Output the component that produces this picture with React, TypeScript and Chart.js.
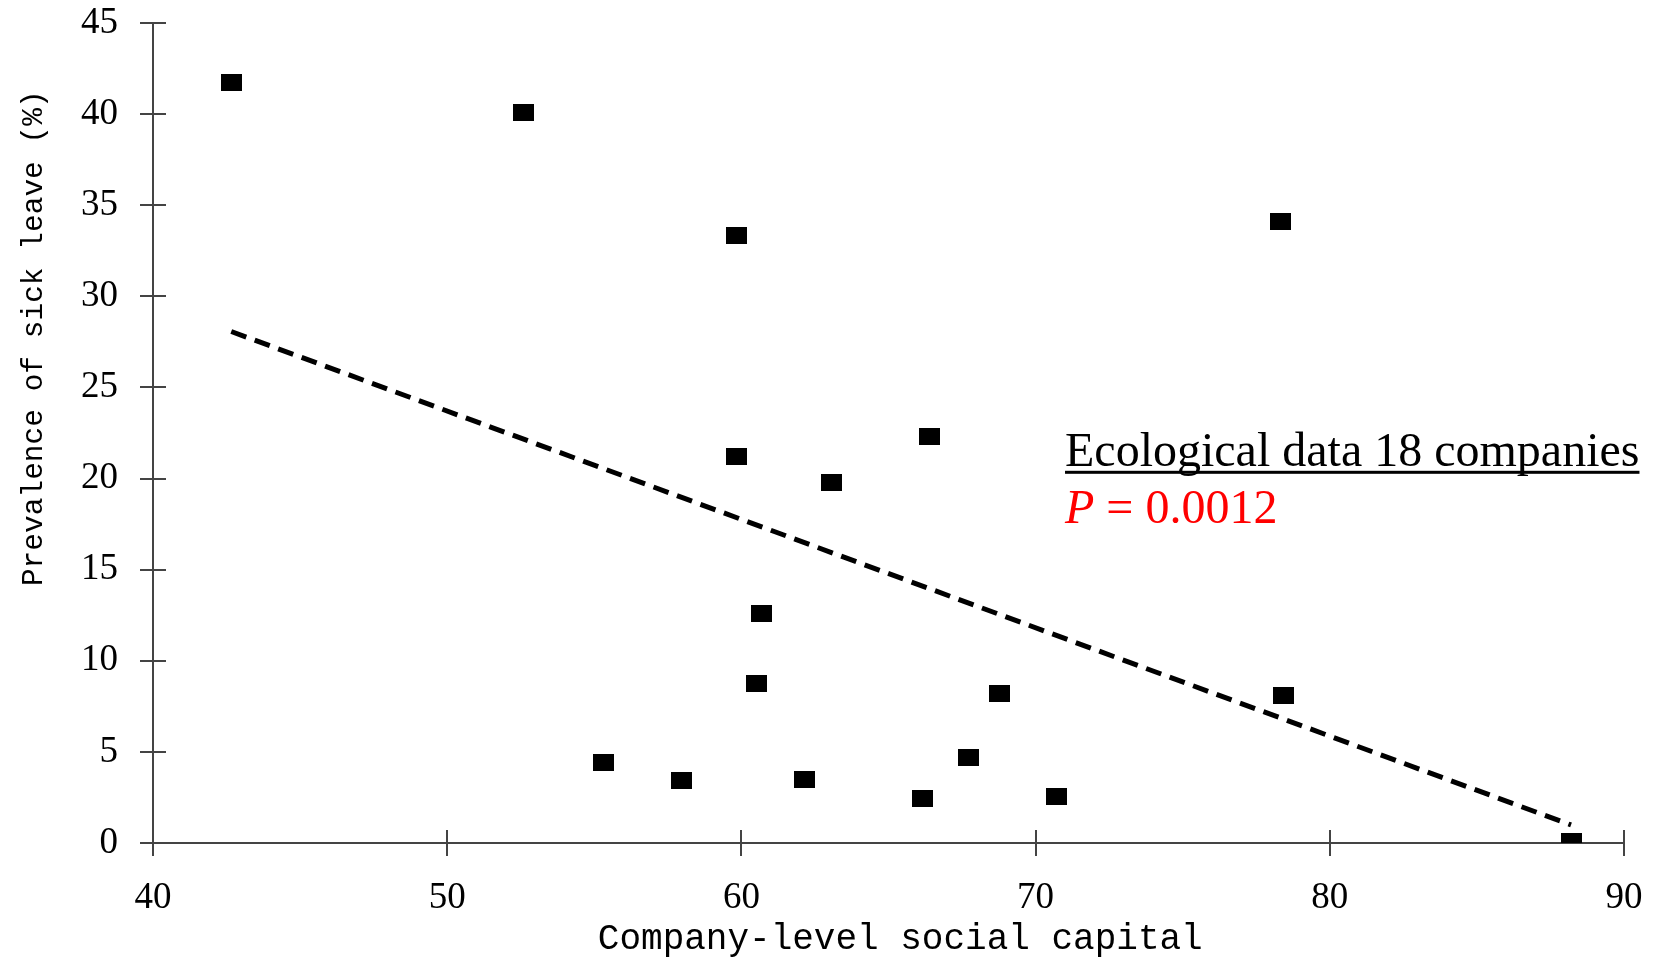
import React, { useEffect, useRef } from "react";
import { Chart, registerables } from "chart.js";

Chart.register(...registerables);

// Company-level social capital (x) vs prevalence of sick leave % (y)
const socialCapital = [42.66, 52.61, 59.83, 78.33, 66.4, 59.83, 63.06, 60.69, 60.51, 68.77, 78.43, 55.3, 57.96, 62.16, 67.73, 66.15, 70.71, 88.2];
const sickLeave = [41.76, 40.08, 33.35, 34.1, 22.33, 21.23, 19.78, 12.59, 8.76, 8.18, 8.12, 4.41, 3.42, 3.48, 4.7, 2.44, 2.55, 0.06];
const trendX = [42.66, 88.2];
const trendY = [28.07, 0.99];
const xTicks = [40, 50, 60, 70, 80, 90];
const yTicks = [0, 5, 10, 15, 20, 25, 30, 35, 40, 45];
const xTitle = "Company-level social capital";
const yTitle = "Prevalence of sick leave (%)";
const noteTitle = "Ecological data 18 companies";
const noteP = "0.0012";

const AXIS_COLOR = "#444";
const TICK_IN = 13;

const extras = {
  id: "extras",
  afterDraw(chart: any) {
    const { ctx, chartArea, scales } = chart;
    ctx.save();
    ctx.strokeStyle = AXIS_COLOR;
    ctx.lineWidth = 2;
    ctx.beginPath();
    for (const v of xTicks) {
      const px = Math.round(scales.x.getPixelForValue(v));
      ctx.moveTo(px, chartArea.bottom);
      ctx.lineTo(px, chartArea.bottom - TICK_IN);
    }
    for (const v of yTicks) {
      const py = Math.round(scales.y.getPixelForValue(v));
      ctx.moveTo(chartArea.left, py);
      ctx.lineTo(chartArea.left + TICK_IN, py);
    }
    ctx.stroke();

    // axis titles
    ctx.fillStyle = "#000";
    ctx.textAlign = "center";
    ctx.textBaseline = "middle";
    ctx.font = "36px 'Liberation Mono', monospace";
    ctx.fillText(xTitle, scales.x.getPixelForValue(65.4), 939);
    ctx.save();
    ctx.translate(34, scales.y.getPixelForValue(27.7));
    ctx.rotate(-Math.PI / 2);
    ctx.font = "29.5px 'Liberation Mono', monospace";
    ctx.fillText(yTitle, 0, 0);
    ctx.restore();

    // annotation
    const tx = scales.x.getPixelForValue(71.0);
    const ty1 = scales.y.getPixelForValue(20.7);
    ctx.font = "48px 'Liberation Serif', 'Times New Roman', serif";
    ctx.fillStyle = "#000";
    ctx.textBaseline = "alphabetic";
    ctx.textAlign = "left";
    ctx.fillText(noteTitle, tx, ty1);
    const w = ctx.measureText(noteTitle).width;
    ctx.fillRect(tx, ty1 + 5, w, 3);
    const ty2 = ty1 + 57;
    ctx.fillStyle = "#ff0000";
    ctx.font = "italic 48px 'Liberation Serif', 'Times New Roman', serif";
    ctx.fillText("P", tx, ty2);
    const off = ctx.measureText("P").width;
    ctx.font = "48px 'Liberation Serif', 'Times New Roman', serif";
    ctx.fillText(" = " + noteP, tx + off, ty2);
    ctx.restore();
  },
};

export default function App() {
  const ref = useRef<HTMLCanvasElement>(null);
  useEffect(() => {
    document.body.style.margin = "0";
    const marker = document.createElement("canvas");
    marker.width = 21;
    marker.height = 17;
    const mctx = marker.getContext("2d")!;
    mctx.fillStyle = "#000";
    mctx.fillRect(0, 0, 21, 17);

    const points = socialCapital.map((x, i) => ({ x, y: sickLeave[i] }));
    const trend = trendX.map((x, i) => ({ x, y: trendY[i] }));
    const chart = new Chart(ref.current!, {
      type: "scatter",
      data: {
        datasets: [
          {
            data: points,
            pointStyle: marker as any,
            pointRadius: 10,
            pointHoverRadius: 10,
            backgroundColor: "#000",
            borderWidth: 0,
          },
          {
            type: "line",
            data: trend,
            borderColor: "#000",
            borderWidth: 5,
            borderDash: [16, 9],
            pointRadius: 0,
            fill: false,
          } as any,
        ],
      },
      plugins: [extras],
      options: {
        animation: false,
        responsive: false,
        maintainAspectRatio: false,
        layout: { padding: { top: 23, right: 33, left: 0, bottom: 0 } },
        plugins: { legend: { display: false }, tooltip: { enabled: false } },
        scales: {
          x: {
            type: "linear",
            min: 40,
            max: 90,
            afterBuildTicks: (s: any) => {
              s.ticks = xTicks.map((v) => ({ value: v }));
            },
            afterFit: (s: any) => {
              s.height = 118;
              s.paddingLeft = 0;
              s.paddingRight = 0;
            },
            grid: { drawOnChartArea: false, drawTicks: true, tickLength: 13, color: AXIS_COLOR, lineWidth: 2 },
            border: { display: true, color: AXIS_COLOR, width: 2 },
            ticks: {
              color: "#000",
              padding: 20,
              maxRotation: 0,
              font: { family: "'Liberation Serif', serif", size: 37 },
            },
            title: { display: false, text: xTitle },
          },
          y: {
            type: "linear",
            min: 0,
            max: 45,
            afterBuildTicks: (s: any) => {
              s.ticks = yTicks.map((v) => ({ value: v }));
            },
            afterFit: (s: any) => {
              s.width = 153;
              s.paddingTop = 0;
              s.paddingBottom = 0;
            },
            grid: { drawOnChartArea: false, drawTicks: true, tickLength: 13, color: AXIS_COLOR, lineWidth: 2 },
            border: { display: true, color: AXIS_COLOR, width: 2 },
            ticks: {
              color: "#000",
              padding: 22,
              font: { family: "'Liberation Serif', serif", size: 37 },
            },
            title: { display: false, text: yTitle },
          },
        },
      },
    });
    return () => chart.destroy();
  }, []);
  return <canvas ref={ref} width={1657} height={961} style={{ display: "block" }} />;
}
